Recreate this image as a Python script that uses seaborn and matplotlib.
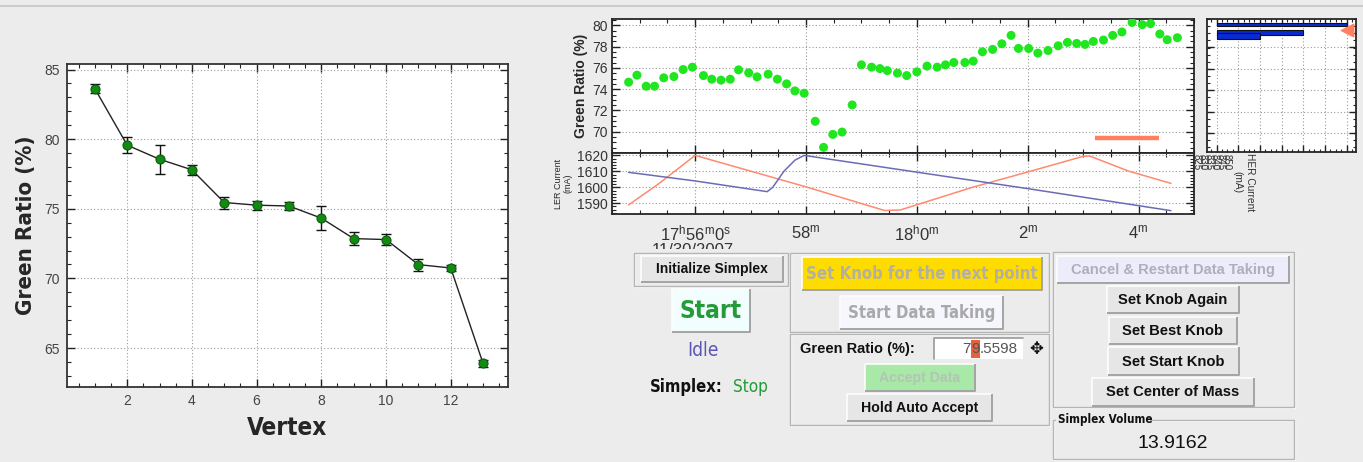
import matplotlib
matplotlib.use("Agg")
import numpy as np
import pandas as pd
import matplotlib.pyplot as plt
import seaborn as sns
from matplotlib import font_manager
from matplotlib.patches import Rectangle
from matplotlib.ticker import MultipleLocator, FixedLocator, NullFormatter
import matplotlib.transforms as mtransforms

# ---------------- data ----------------
# Simplex vertices, sorted by green ratio
vertex = list(range(1, 14))
vertex_ratio = [83.63, 79.57, 78.56, 77.80, 75.45, 75.26, 75.20, 74.33,
                72.86, 72.79, 70.99, 70.75, 63.89]
vertex_err = [0.33, 0.58, 1.04, 0.37, 0.43, 0.33, 0.32, 0.87,
              0.48, 0.42, 0.43, 0.22, 0.27]

# Green ratio history, seconds after 17:56:00 (11/30/2007)
ratio_time = [-72, -63, -53, -44, -34, -23, -13, -3, 9, 18, 28, 38, 47, 58,
              67, 79, 89, 99, 108, 118, 130, 139, 149, 159, 170, 180, 191,
              200, 208, 219, 229, 240, 251, 262, 271, 280, 292, 301, 311,
              322, 332, 342, 350, 361, 371, 382, 393, 403, 413, 422, 431,
              442, 452, 462, 473, 484, 493, 503, 511, 522]
ratio_value = [74.66, 75.32, 74.28, 74.28, 75.07, 75.19, 75.85, 76.07, 75.28,
               74.94, 74.85, 74.94, 75.82, 75.54, 75.16, 75.41, 74.94, 74.50,
               73.84, 73.62, 70.98, 68.53, 69.75, 69.97, 72.52, 76.29, 76.07,
               75.94, 75.75, 75.51, 75.28, 75.63, 76.17, 76.07, 76.29, 76.51,
               76.51, 76.64, 77.52, 77.74, 78.27, 79.06, 77.83, 77.83, 77.39,
               77.64, 78.08, 78.40, 78.30, 78.21, 78.49, 78.62, 79.06, 79.38,
               80.28, 80.07, 80.16, 79.19, 78.65, 78.84]

# Current averaging window (start / end seconds) and its marker level
window_time = [433, 502]
window_level = 69.43

# Beam current traces (mA)
red_time = [-72, -40, 0, 120, 205, 222, 300, 360, 420, 427, 470, 515]
red_current = [1589, 1602, 1620, 1600.3, 1585.5, 1585.8, 1600, 1609.6, 1619.4,
               1619.6, 1610, 1602.5]
blue_time = [-72, 0, 78, 84, 96, 108, 118, 240, 360, 515]
blue_current = [1609.4, 1604.0, 1597.3, 1600.0, 1610.0, 1617.0, 1620.0,
                1609.5, 1599.2, 1585.4]

time_ticks = [0, 120, 240, 360, 480]
time_labels = ["17$^{h}$56$^{m}$0$^{s}$", "58$^{m}$", "18$^{h}$0$^{m}$",
               "2$^{m}$", "4$^{m}$"]
date_label = "11/30/2007"

# Side histogram of the other ring's current
side_bar_len = [6.0, 4.0, 2.0]
side_labels = ["850", "845", "840", "835", "830", "825"]

# Panel readouts
green_ratio_text = ["7", "9", ".5598"]
simplex_volume = "13.9162"

# ---------------- style ----------------
sns.set_style("ticks")
fonts = font_manager.fontManager.ttflist
names = {f.name for f in fonts}
SANS = "Liberation Sans" if "Liberation Sans" in names else "DejaVu Sans"
plt.rcParams["font.family"] = [SANS, "DejaVu Sans"]
plt.rcParams["mathtext.default"] = "regular"
plt.rcParams["axes.linewidth"] = 1.3

# narrow face for the condensed captions
if "Liberation Sans Narrow" in names:
    NARROW = dict(family=["Liberation Sans Narrow", "DejaVu Sans"])
    NSCALE = 1.05
elif any(f.name == "DejaVu Sans" and f.stretch not in ("normal", 500)
         for f in fonts):
    NARROW = dict(family=["DejaVu Sans"], stretch="condensed")
    NSCALE = 0.95
else:
    NARROW = dict(family=[SANS, "DejaVu Sans"])
    NSCALE = 0.8

BG = "#ececec"
W, H = 1363, 462
fig = plt.figure(figsize=(W / 100, H / 100), dpi=100, facecolor=BG)


def px_rect(x0, y0, x1, y1):
    return [x0 / W, 1 - y1 / H, (x1 - x0) / W, (y1 - y0) / H]


def in_ticks(ax, major=6, minor=3):
    ax.tick_params(which="both", direction="in", top=True, right=True,
                   color="#222222")
    ax.tick_params(which="major", length=major, width=1)
    ax.tick_params(which="minor", length=minor, width=0.8)


grid_kw = dict(color="#9a9a9a", linestyle=(0, (1, 2)), linewidth=0.8)

# ---------------- simplex vertex chart ----------------
ax = fig.add_axes(px_rect(67, 64, 508, 387))
ax.set_facecolor("white")
ax.errorbar(vertex, vertex_ratio, yerr=vertex_err, fmt="none", ecolor="#111111",
            elinewidth=1, capsize=3.5, capthick=1, zorder=3)
sns.lineplot(x=vertex, y=vertex_ratio, ax=ax, color="#222222", linewidth=1,
             marker="o", markersize=6.5, markerfacecolor="#138a13",
             markeredgecolor="#0b5d0b", markeredgewidth=0.8, zorder=4)
ax.set_xlim(0.14, 13.77)
ax.set_ylim(62.2, 85.4)
ax.xaxis.set_major_locator(MultipleLocator(2))
ax.xaxis.set_minor_locator(MultipleLocator(0.5))
ax.yaxis.set_major_locator(MultipleLocator(5))
ax.yaxis.set_minor_locator(MultipleLocator(1))
in_ticks(ax)
ax.grid(True, which="major", **grid_kw)
ax.tick_params(labelsize=10, labelcolor="#444444", pad=5)
ax.set_xlabel("Vertex", weight="bold", fontsize=17.5 * NSCALE / 0.95,
              labelpad=6, **NARROW)
ax.set_ylabel("Green Ratio (%)", weight="bold", fontsize=16 * NSCALE / 0.95,
              labelpad=6, **NARROW)
for s in ax.spines.values():
    s.set_color("#333333")

# ---------------- green ratio history ----------------
axg = fig.add_axes(px_rect(612, 19, 1194, 153))
axg.set_facecolor("white")
sns.scatterplot(x=ratio_time, y=ratio_value, ax=axg, s=42, color="#1fe61f",
                edgecolor="none", zorder=3, clip_on=True)
axg.plot(window_time, [window_level, window_level], color="#ff7f5f",
         linewidth=3.2, solid_capstyle="butt", zorder=3)
axg.set_xlim(-90, 540)
axg.set_ylim(68.0, 80.6)
axg.xaxis.set_major_locator(FixedLocator(time_ticks))
axg.xaxis.set_minor_locator(MultipleLocator(30))
axg.xaxis.set_major_formatter(NullFormatter())
axg.yaxis.set_major_locator(FixedLocator([70, 72, 74, 76, 78, 80]))
axg.yaxis.set_minor_locator(MultipleLocator(0.5))
in_ticks(axg, 6, 3)
axg.grid(True, which="major", **grid_kw)
axg.tick_params(axis="y", labelsize=10, labelcolor="#333333", pad=3)
axg.set_ylabel("Green Ratio (%)", fontsize=10, weight="bold", labelpad=3)

# ---------------- beam currents ----------------
axc = fig.add_axes(px_rect(612, 153, 1194, 214))
axc.set_facecolor("white")
sns.lineplot(x=red_time, y=red_current, ax=axc, sort=False, color="#ff8a70",
             linewidth=1.1, zorder=3)
sns.lineplot(x=blue_time, y=blue_current, ax=axc, sort=False, color="#6b6bb8",
             linewidth=1.1, zorder=3)
axc.set_xlim(-90, 540)
axc.set_ylim(1583.3, 1621.5)
axc.xaxis.set_major_locator(FixedLocator(time_ticks))
axc.xaxis.set_minor_locator(MultipleLocator(30))
axc.set_xticklabels(time_labels)
axc.yaxis.set_major_locator(FixedLocator([1590, 1600, 1610, 1620]))
axc.yaxis.set_minor_locator(MultipleLocator(2))
in_ticks(axc, 6, 3)
axc.grid(True, which="major", **grid_kw)
axc.tick_params(axis="y", labelsize=10, labelcolor="#333333", pad=3)
axc.tick_params(axis="x", labelsize=12, labelcolor="#333333", pad=7)
axc.set_ylabel("LER Current\n(mA)", fontsize=6.5, labelpad=3,
               linespacing=1.1)
date_tr = mtransforms.blended_transform_factory(axc.transData, axc.transAxes)
axc.text(-2, -0.47, date_label, transform=date_tr, ha="center", va="top",
         fontsize=12, color="#333333")

# ---------------- side histogram ----------------
axs = fig.add_axes(px_rect(1207, 19, 1356, 152))
axs.set_facecolor("white")
bar_y = [0.25, 0.63, 0.80]
bar_h = [0.14, 0.20, 0.27]
axs.barh(bar_y, side_bar_len, height=bar_h, left=0, color="#0a2bd4",
         edgecolor="#111111", linewidth=0.8, zorder=3)
axs.scatter([6.0], [0.53], marker="<", s=80, color="#ff7f5f", zorder=4,
            clip_on=False)
axs.set_xlim(-0.44, 6.43)
axs.set_ylim(6.16, 0)
axs.xaxis.set_major_locator(MultipleLocator(1))
axs.xaxis.set_minor_locator(MultipleLocator(0.25))
axs.yaxis.set_major_locator(FixedLocator([1.3, 2.3, 3.3, 4.3, 5.3]))
axs.yaxis.set_minor_locator(MultipleLocator(0.33))
in_ticks(axs, 5, 2.5)
axs.grid(True, which="major", **grid_kw)
axs.set_xticklabels([])
axs.set_yticklabels([])

# ---------------- control panel overlay ----------------
ov = fig.add_axes([0, 0, 1, 1], zorder=10)
ov.set_xlim(0, W)
ov.set_ylim(H, 0)
ov.axis("off")
ov.patch.set_alpha(0)

ov.plot([0, W], [5.5, 5.5], color="#c6c6c6", lw=1.2)

# rotated labels of the side histogram (tightly stacked)
ov.text(1212, 154, "\n".join(side_labels), rotation=270, ha="center",
        va="top", fontsize=7, color="#333333", linespacing=0.5,
        multialignment="center")
ov.text(1244, 153, "HER Current\n(mA)", rotation=270, ha="center", va="top",
        fontsize=7.3, color="#333333", linespacing=1.3,
        multialignment="center")

# panel backdrop (hides the lower half of the date label)
ov.add_patch(Rectangle((600, 249), W - 600, H - 249, fc=BG, ec="none"))


def frame(x0, y0, x1, y1):
    ov.add_patch(Rectangle((x0 + 1, y0 + 1), x1 - x0, y1 - y0, fill=False,
                           ec="#fbfbfb", lw=1))
    ov.add_patch(Rectangle((x0, y0), x1 - x0, y1 - y0, fill=False,
                           ec="#b5b5b5", lw=1))


def button(x0, y0, x1, y1, label, face="#e6e6e6", color="#111111", size=9,
           narrow=False, weight="bold"):
    ov.add_patch(Rectangle((x0, y0), x1 - x0, y1 - y0, fc=face, ec="none"))
    ov.plot([x0, x0, x1], [y1, y0, y0], color="#fdfdfd", lw=1.2,
            solid_capstyle="butt")
    ov.plot([x0, x1, x1], [y1, y1, y0], color="#a4a4a4", lw=1.4,
            solid_capstyle="butt")
    kw = dict(NARROW) if narrow else dict(family=[SANS, "DejaVu Sans"])
    ov.text((x0 + x1) / 2, (y0 + y1) / 2 + 0.5, label, ha="center",
            va="center", fontsize=size * (NSCALE / 0.95 if narrow else 1),
            color=color, weight=weight, **kw)


# left column
frame(634, 253, 788, 286)
button(641, 256, 783, 282, "Initialize Simplex", size=10)
button(672, 289, 750, 332, "Start", face="#f2fdfd", color="#259a39", size=17.5,
       narrow=True)
ov.text(703, 350, "Idle", ha="center", va="center", fontsize=14.5 * NSCALE,
        color="#5b56b3", **NARROW)
ov.text(686, 387, "Simplex:", ha="center", va="center", fontsize=12.5 * NSCALE,
        weight="bold", color="#111111", **NARROW)
ov.text(750, 387, "Stop", ha="center", va="center", fontsize=13 * NSCALE,
        color="#259a39", **NARROW)

# middle column
frame(790, 253, 1049, 332)
button(802, 257, 1042, 290, "Set Knob for the next point", face="#ffdc00",
       color="#b4b0a0", size=12, narrow=True)
button(840, 296, 1003, 329, "Start Data Taking", face="#f6f6fd",
       color="#a9a9a9", size=12, narrow=True)

frame(790, 334, 1049, 425)
ov.text(857, 349, "Green Ratio (%):", ha="center", va="center", fontsize=10.5,
        weight="bold", color="#111111")
ov.add_patch(Rectangle((934, 338), 89, 21, fc="white", ec="none"))
ov.plot([934, 934, 1023], [359, 338, 338], color="#9a9a9a", lw=1.2)
ov.add_patch(Rectangle((971, 339.5), 9, 18.5, fc="#e8603c", ec="none"))
ov.text(971, 349, green_ratio_text[0], ha="right", va="center", fontsize=11,
        color="#555555")
ov.text(975.5, 349, green_ratio_text[1], ha="center", va="center",
        fontsize=11, color="#555555")
ov.text(980, 349, green_ratio_text[2], ha="left", va="center", fontsize=11,
        color="#555555")
ov.text(1036, 349, "\u2725", ha="center", va="center", fontsize=12,
        color="#111111", family=["DejaVu Sans"])
button(865, 364, 975, 391, "Accept Data", face="#a8e9a8", color="#b4c4b4",
       size=10.2)
button(847, 394, 992, 421, "Hold Auto Accept", size=10.2)

# right column
frame(1053, 252, 1294, 407)
button(1057, 256, 1289, 283, "Cancel & Restart Data Taking", face="#ececfa",
       color="#aeaebf", size=10.6)
button(1107, 286, 1239, 313, "Set Knob Again", size=10.6)
button(1109, 317, 1237, 344, "Set Best Knob", size=10.6)
button(1108, 347, 1239, 375, "Set Start Knob", size=10.6)
button(1092, 378, 1254, 406, "Set Center of Mass", size=10.6)

frame(1053, 420, 1294, 459)
ov.add_patch(Rectangle((1056, 413), 94, 13, fc=BG, ec="none"))
ov.text(1058, 420, "Simplex Volume", ha="left", va="center",
        fontsize=8.4 * NSCALE / 0.95, weight="bold", color="#111111", **NARROW)
ov.text(1173, 444, simplex_volume, ha="center", va="center", fontsize=14,
        color="#111111")

fig.savefig("out.png", dpi=100, facecolor=BG)
